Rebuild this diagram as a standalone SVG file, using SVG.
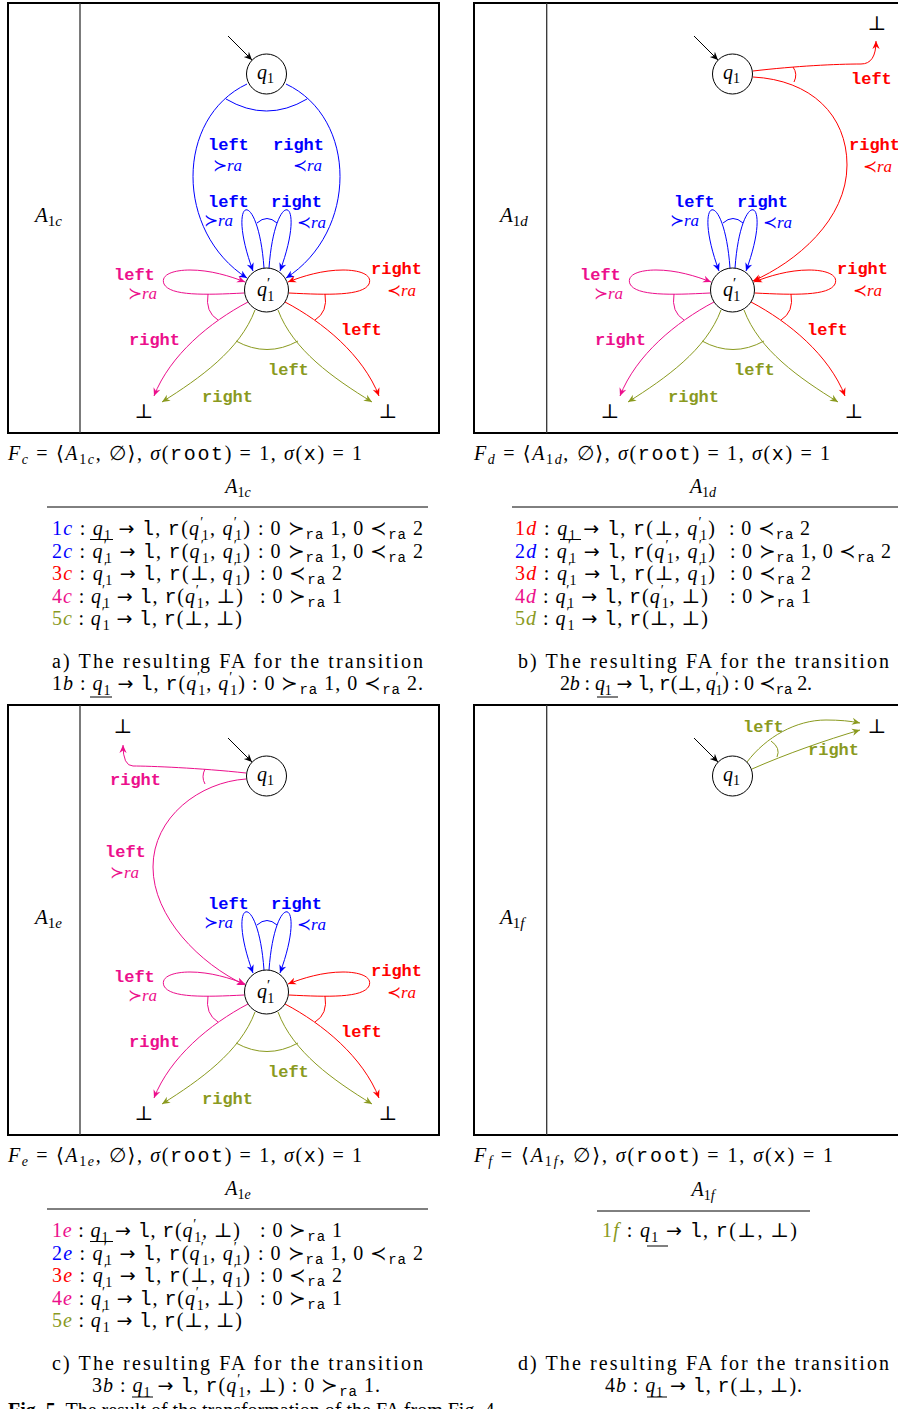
<svg xmlns="http://www.w3.org/2000/svg" width="898" height="1409" viewBox="0 0 898 1409">
<style>
text { font-family: "Liberation Serif", "DejaVu Serif", serif; font-size: 20px; fill: #000; }
.i { font-style: italic; }
.tt { font-family: "Liberation Mono", "DejaVu Sans Mono", monospace; }
.ar { font-family: "DejaVu Sans", sans-serif; font-size: 19px; }
.s { font-size: 14px; }
.lb { font-family: "Liberation Mono", "DejaVu Sans Mono", monospace; font-weight: bold; font-size: 17px; }
.ra { font-size: 17px; }
.frame { fill: none; stroke: #000; stroke-width: 2; }
.div { stroke: #333; stroke-width: 1.3; }
.node { fill: #fff; stroke: #000; stroke-width: 1; }
.e { fill: none; stroke-width: 1; }
.bl { stroke: #0000ff; } .rd { stroke: #ff0000; } .pk { stroke: #ec0f8c; } .ol { stroke: #8a9a1f; } .bk { stroke: #000; }
.fbl { fill: #0000ff; } .frd { fill: #ff0000; } .fpk { fill: #ec0f8c; } .fol { fill: #8a9a1f; }
.rule { stroke: #000; stroke-width: 1; }
</style>
<defs>
<marker id="mbk" viewBox="-10 -6 12 12" refX="0" refY="0" markerWidth="12" markerHeight="12" markerUnits="userSpaceOnUse" orient="auto"><path d="M0,0 L-8,-3.6 L-5.5,0 L-8,3.6 Z" fill="#000"/></marker>
<marker id="mbl" viewBox="-10 -6 12 12" refX="0" refY="0" markerWidth="12" markerHeight="12" markerUnits="userSpaceOnUse" orient="auto"><path d="M0,0 L-8,-3.6 L-5.5,0 L-8,3.6 Z" fill="#0000ff"/></marker>
<marker id="mrd" viewBox="-10 -6 12 12" refX="0" refY="0" markerWidth="12" markerHeight="12" markerUnits="userSpaceOnUse" orient="auto"><path d="M0,0 L-8,-3.6 L-5.5,0 L-8,3.6 Z" fill="#ff0000"/></marker>
<marker id="mpk" viewBox="-10 -6 12 12" refX="0" refY="0" markerWidth="12" markerHeight="12" markerUnits="userSpaceOnUse" orient="auto"><path d="M0,0 L-8,-3.6 L-5.5,0 L-8,3.6 Z" fill="#ec0f8c"/></marker>
<marker id="mol" viewBox="-10 -6 12 12" refX="0" refY="0" markerWidth="12" markerHeight="12" markerUnits="userSpaceOnUse" orient="auto"><path d="M0,0 L-8,-3.6 L-5.5,0 L-8,3.6 Z" fill="#8a9a1f"/></marker>
</defs>

<!-- ================= PANEL A ================= -->
<g id="panelA">
<rect class="frame" x="8" y="3" width="431" height="430"/>
<line class="div" x1="80" y1="3" x2="80" y2="433"/>
<text x="35" y="222"><tspan class="i" font-size="21">A</tspan><tspan font-size="15" dy="4">1</tspan><tspan font-size="15" class="i">c</tspan></text>
<g id="a-connectors">
<path class="e bk" d="M228,36 L252,60" marker-end="url(#mbk)"/>
<path class="e bl" d="M247,84 C175,118 175,232 247,278" marker-end="url(#mbl)"/>
<path class="e bl" d="M286,84 C358,118 358,232 286,278" marker-end="url(#mbl)"/>
<path class="e bl" d="M226,99 Q266.5,123 307,99"/>
<text class="lb fbl" x="208" y="150">left</text>
<text class="ra fbl" x="213" y="171">≻<tspan class="i">ra</tspan></text>
<text class="lb fbl" x="273" y="150">right</text>
<text class="ra fbl" x="293" y="171">≺<tspan class="i">ra</tspan></text>
<path class="e bl" d="M264,268 C258,185 225,195 253,271" marker-end="url(#mbl)"/>
<path class="e bl" d="M269,268 C275,185 308,195 280,271" marker-end="url(#mbl)"/>
<path class="e bl" d="M257,223 Q267,214 277,223"/>
<path class="e pk" d="M244,293 C205,295 170,296 164,284 C160,274 175,270 190,270 C210,270 230,276 245,282" marker-end="url(#mpk)"/>
<path class="e rd" d="M289,293 C328,295 363,296 369,284 C373,274 358,270 343,270 C323,270 303,276 288,282" marker-end="url(#mrd)"/>
<path class="e pk" d="M208,294 Q205,312 218,320"/>
<path class="e rd" d="M325,294 Q328,312 315,320"/>
<path class="e pk" d="M248,302 C210,322 170,355 154,396" marker-end="url(#mpk)"/>
<path class="e ol" d="M255,310 C240,350 200,378 162,402" marker-end="url(#mol)"/>
<path class="e ol" d="M278,310 C293,350 333,378 372,402" marker-end="url(#mol)"/>
<path class="e rd" d="M285,302 C323,322 363,355 379,396" marker-end="url(#mrd)"/>
<path class="e ol" d="M236,341 Q267,358 298,341"/>
<text class="lb fbl" x="208" y="207">left</text>
<text class="ra fbl" x="204" y="226">≻<tspan class="i">ra</tspan></text>
<text class="lb fbl" x="271" y="207">right</text>
<text class="ra fbl" x="297" y="228">≺<tspan class="i">ra</tspan></text>
<text class="lb fpk" x="114" y="280">left</text>
<text class="ra fpk" x="128" y="299">≻<tspan class="i">ra</tspan></text>
<text class="lb frd" x="371" y="274">right</text>
<text class="ra frd" x="387" y="296">≺<tspan class="i">ra</tspan></text>
<text class="lb fpk" x="129" y="345">right</text>
<text class="lb frd" x="341" y="335">left</text>
<text class="lb fol" x="268" y="375">left</text>
<text class="lb fol" x="202" y="402">right</text>
</g>
<g id="a-q1"><circle class="node" cx="266.5" cy="74" r="20"/><text x="257" y="79"><tspan class="i">q</tspan><tspan class="s" dy="4">1</tspan></text></g>
<g id="a-q1p"><circle class="node" cx="266.5" cy="290" r="22"/><text x="257" y="296"><tspan class="i">q</tspan><tspan font-size="15" dy="-8">′</tspan><tspan class="s" dx="-3" dy="13">1</tspan></text></g>
<g id="a-botL"><text x="144" y="418" text-anchor="middle">⊥</text></g>
<g id="a-botR"><text x="388" y="418" text-anchor="middle">⊥</text></g>
</g>

<!-- ================= PANEL B ================= -->
<g id="panelB" transform="translate(466,0)">
<rect class="frame" x="8" y="3" width="431" height="430"/>
<line class="div" x1="80.7" y1="3" x2="80.7" y2="433"/>
<text x="34" y="222"><tspan class="i" font-size="21">A</tspan><tspan font-size="15" dy="4">1</tspan><tspan font-size="15" class="i">d</tspan></text>
<g id="b-connectors">
<path class="e bk" d="M228,36 L252,60" marker-end="url(#mbk)"/>
<path class="e rd" d="M287,71 C330,66 370,64 395,64 Q410,64 410,41" marker-end="url(#mrd)"/>
<path class="e rd" d="M287,77 C345,80 381,115 381,165 C381,220 330,262 287,281" marker-end="url(#mrd)"/>
<path class="e rd" d="M327,67 Q332,74 328,82"/>
<text class="lb frd" x="385" y="84">left</text>
<text class="lb frd" x="383" y="150">right</text>
<text class="ra frd" x="397" y="172">≺<tspan class="i">ra</tspan></text>
<path class="e bl" d="M264,268 C258,185 225,195 253,271" marker-end="url(#mbl)"/>
<path class="e bl" d="M269,268 C275,185 308,195 280,271" marker-end="url(#mbl)"/>
<path class="e bl" d="M257,223 Q267,214 277,223"/>
<path class="e pk" d="M244,293 C205,295 170,296 164,284 C160,274 175,270 190,270 C210,270 230,276 245,282" marker-end="url(#mpk)"/>
<path class="e rd" d="M289,293 C328,295 363,296 369,284 C373,274 358,270 343,270 C323,270 303,276 288,282" marker-end="url(#mrd)"/>
<path class="e pk" d="M208,294 Q205,312 218,320"/>
<path class="e rd" d="M325,294 Q328,312 315,320"/>
<path class="e pk" d="M248,302 C210,322 170,355 154,396" marker-end="url(#mpk)"/>
<path class="e ol" d="M255,310 C240,350 200,378 162,402" marker-end="url(#mol)"/>
<path class="e ol" d="M278,310 C293,350 333,378 372,402" marker-end="url(#mol)"/>
<path class="e rd" d="M285,302 C323,322 363,355 379,396" marker-end="url(#mrd)"/>
<path class="e ol" d="M236,341 Q267,358 298,341"/>
<text class="lb fbl" x="208" y="207">left</text>
<text class="ra fbl" x="204" y="226">≻<tspan class="i">ra</tspan></text>
<text class="lb fbl" x="271" y="207">right</text>
<text class="ra fbl" x="297" y="228">≺<tspan class="i">ra</tspan></text>
<text class="lb fpk" x="114" y="280">left</text>
<text class="ra fpk" x="128" y="299">≻<tspan class="i">ra</tspan></text>
<text class="lb frd" x="371" y="274">right</text>
<text class="ra frd" x="387" y="296">≺<tspan class="i">ra</tspan></text>
<text class="lb fpk" x="129" y="345">right</text>
<text class="lb frd" x="341" y="335">left</text>
<text class="lb fol" x="268" y="375">left</text>
<text class="lb fol" x="202" y="402">right</text>
</g>
<g id="b-q1"><circle class="node" cx="266.5" cy="74" r="20"/><text x="257" y="79"><tspan class="i">q</tspan><tspan class="s" dy="4">1</tspan></text></g>
<g id="b-q1p"><circle class="node" cx="266.5" cy="290" r="22"/><text x="257" y="296"><tspan class="i">q</tspan><tspan font-size="15" dy="-8">′</tspan><tspan class="s" dx="-3" dy="13">1</tspan></text></g>
<g id="b-botTop"><text x="411" y="30" text-anchor="middle">⊥</text></g>
<g id="b-botL"><text x="144" y="418" text-anchor="middle">⊥</text></g>
<g id="b-botR"><text x="388" y="418" text-anchor="middle">⊥</text></g>
</g>

<!-- ================= PANEL C ================= -->
<g id="panelC" transform="translate(0,702)">
<rect class="frame" x="8" y="3" width="431" height="430"/>
<line class="div" x1="80" y1="3" x2="80" y2="433"/>
<text x="35" y="222"><tspan class="i" font-size="21">A</tspan><tspan font-size="15" dy="4">1</tspan><tspan font-size="15" class="i">e</tspan></text>
<g id="c-connectors">
<path class="e bk" d="M228,36 L252,60" marker-end="url(#mbk)"/>
<path class="e pk" d="M246,71 C200,66 150,64 133,64 Q123,64 123,43" marker-end="url(#mpk)"/>
<path class="e pk" d="M246,77 C200,80 153,115 153,165 C153,215 200,262 245,283" marker-end="url(#mpk)"/>
<path class="e pk" d="M205,67 Q201,75 205,82"/>
<text class="lb fpk" x="110" y="83">right</text>
<text class="lb fpk" x="105" y="155">left</text>
<text class="ra fpk" x="110" y="176">≻<tspan class="i">ra</tspan></text>
<path class="e bl" d="M264,268 C258,185 225,195 253,271" marker-end="url(#mbl)"/>
<path class="e bl" d="M269,268 C275,185 308,195 280,271" marker-end="url(#mbl)"/>
<path class="e bl" d="M257,223 Q267,214 277,223"/>
<path class="e pk" d="M244,293 C205,295 170,296 164,284 C160,274 175,270 190,270 C210,270 230,276 245,282" marker-end="url(#mpk)"/>
<path class="e rd" d="M289,293 C328,295 363,296 369,284 C373,274 358,270 343,270 C323,270 303,276 288,282" marker-end="url(#mrd)"/>
<path class="e pk" d="M208,294 Q205,312 218,320"/>
<path class="e rd" d="M325,294 Q328,312 315,320"/>
<path class="e pk" d="M248,302 C210,322 170,355 154,396" marker-end="url(#mpk)"/>
<path class="e ol" d="M255,310 C240,350 200,378 162,402" marker-end="url(#mol)"/>
<path class="e ol" d="M278,310 C293,350 333,378 372,402" marker-end="url(#mol)"/>
<path class="e rd" d="M285,302 C323,322 363,355 379,396" marker-end="url(#mrd)"/>
<path class="e ol" d="M236,341 Q267,358 298,341"/>
<text class="lb fbl" x="208" y="207">left</text>
<text class="ra fbl" x="204" y="226">≻<tspan class="i">ra</tspan></text>
<text class="lb fbl" x="271" y="207">right</text>
<text class="ra fbl" x="297" y="228">≺<tspan class="i">ra</tspan></text>
<text class="lb fpk" x="114" y="280">left</text>
<text class="ra fpk" x="128" y="299">≻<tspan class="i">ra</tspan></text>
<text class="lb frd" x="371" y="274">right</text>
<text class="ra frd" x="387" y="296">≺<tspan class="i">ra</tspan></text>
<text class="lb fpk" x="129" y="345">right</text>
<text class="lb frd" x="341" y="335">left</text>
<text class="lb fol" x="268" y="375">left</text>
<text class="lb fol" x="202" y="402">right</text>
</g>
<g id="c-q1"><circle class="node" cx="266.5" cy="74" r="20"/><text x="257" y="79"><tspan class="i">q</tspan><tspan class="s" dy="4">1</tspan></text></g>
<g id="c-q1p"><circle class="node" cx="266.5" cy="290" r="22"/><text x="257" y="296"><tspan class="i">q</tspan><tspan font-size="15" dy="-8">′</tspan><tspan class="s" dx="-3" dy="13">1</tspan></text></g>
<g id="c-botTop"><text x="123" y="31" text-anchor="middle">⊥</text></g>
<g id="c-botL"><text x="144" y="418" text-anchor="middle">⊥</text></g>
<g id="c-botR"><text x="388" y="418" text-anchor="middle">⊥</text></g>
</g>

<!-- ================= PANEL D ================= -->
<g id="panelD" transform="translate(466,702)">
<rect class="frame" x="8" y="3" width="431" height="430"/>
<line class="div" x1="80.7" y1="3" x2="80.7" y2="433"/>
<text x="34" y="222"><tspan class="i" font-size="21">A</tspan><tspan font-size="15" dy="4">1</tspan><tspan font-size="15" class="i">f</tspan></text>
<g id="d-connectors">
<path class="e bk" d="M228,36 L252,60" marker-end="url(#mbk)"/>
<path class="e ol" d="M281,60 C300,35 330,18 360,18 Q380,18 394,21" marker-end="url(#mol)"/>
<path class="e ol" d="M286,67 C320,52 360,38 394,28" marker-end="url(#mol)"/>
<path class="e ol" d="M305,39 Q315,46 311,55"/>
<text class="lb fol" x="277" y="30">left</text>
<text class="lb fol" x="342" y="53">right</text>
</g>
<g id="d-q1"><circle class="node" cx="266.5" cy="74" r="20"/><text x="257" y="79"><tspan class="i">q</tspan><tspan class="s" dy="4">1</tspan></text></g>
<g id="d-botTop"><text x="411" y="31" text-anchor="middle">⊥</text></g>
</g>

<!-- ================= TEXT A ================= -->
<g id="textA">
<text x="8" y="460" textLength="354" lengthAdjust="spacing"><tspan class="i">F</tspan><tspan class="s i" dy="4">c</tspan><tspan dy="-4"> = ⟨</tspan><tspan class="i">A</tspan><tspan class="s" dy="4">1</tspan><tspan class="s i">c</tspan><tspan dy="-4">, ∅⟩, </tspan><tspan class="i">σ</tspan>(<tspan class="tt">root</tspan>) = 1, <tspan class="i">σ</tspan>(<tspan class="tt">x</tspan>) = 1</text>
<text x="238" y="493" text-anchor="middle"><tspan class="i">A</tspan><tspan class="s" dy="4">1</tspan><tspan class="s i">c</tspan></text>
<line class="rule" x1="47" y1="507" x2="428" y2="507"/>
<text x="52" y="535" textLength="198" lengthAdjust="spacing"><tspan fill="#0000ff">1<tspan class="i">c</tspan></tspan> : <tspan class="i">q</tspan><tspan class="s" dy="5">1</tspan><tspan dy="-5"> <tspan class="ar">→</tspan> </tspan><tspan class="tt">l</tspan>, <tspan class="tt">r</tspan>(<tspan class="i">q</tspan><tspan class="s" dy="-8">′</tspan><tspan class="s" dx="-3" dy="13">1</tspan><tspan dy="-5">, </tspan><tspan class="i">q</tspan><tspan class="s" dy="-8">′</tspan><tspan class="s" dx="-3" dy="13">1</tspan><tspan dy="-5">)</tspan></text>
<line class="rule" x1="90" y1="539.5" x2="113" y2="539.5"/>
<text x="258" y="535" textLength="165" lengthAdjust="spacing">: 0 ≻<tspan class="tt s" dy="4">ra</tspan><tspan dy="-4"> 1, 0 ≺</tspan><tspan class="tt s" dy="4">ra</tspan><tspan dy="-4"> 2</tspan></text>
<text x="52" y="557.5" textLength="198" lengthAdjust="spacing"><tspan fill="#0000ff">2<tspan class="i">c</tspan></tspan> : <tspan class="i">q</tspan><tspan class="s" dy="-8">′</tspan><tspan class="s" dx="-3" dy="13">1</tspan><tspan dy="-5"> <tspan class="ar">→</tspan> </tspan><tspan class="tt">l</tspan>, <tspan class="tt">r</tspan>(<tspan class="i">q</tspan><tspan class="s" dy="-8">′</tspan><tspan class="s" dx="-3" dy="13">1</tspan><tspan dy="-5">, </tspan><tspan class="i">q</tspan><tspan class="s" dy="-8">′</tspan><tspan class="s" dx="-3" dy="13">1</tspan><tspan dy="-5">)</tspan></text>
<text x="258" y="557.5" textLength="165" lengthAdjust="spacing">: 0 ≻<tspan class="tt s" dy="4">ra</tspan><tspan dy="-4"> 1, 0 ≺</tspan><tspan class="tt s" dy="4">ra</tspan><tspan dy="-4"> 2</tspan></text>
<text x="52" y="580" textLength="198" lengthAdjust="spacing"><tspan fill="#ff0000">3<tspan class="i">c</tspan></tspan> : <tspan class="i">q</tspan><tspan class="s" dy="-8">′</tspan><tspan class="s" dx="-3" dy="13">1</tspan><tspan dy="-5"> <tspan class="ar">→</tspan> </tspan><tspan class="tt">l</tspan>, <tspan class="tt">r</tspan>(⊥, <tspan class="i">q</tspan><tspan class="s" dy="-8">′</tspan><tspan class="s" dx="-3" dy="13">1</tspan><tspan dy="-5">)</tspan></text>
<text x="260" y="580" textLength="82" lengthAdjust="spacing">: 0 ≺<tspan class="tt s" dy="4">ra</tspan><tspan dy="-4"> 2</tspan></text>
<text x="52" y="602.5" textLength="191" lengthAdjust="spacing"><tspan fill="#ec0f8c">4<tspan class="i">c</tspan></tspan> : <tspan class="i">q</tspan><tspan class="s" dy="-8">′</tspan><tspan class="s" dx="-3" dy="13">1</tspan><tspan dy="-5"> <tspan class="ar">→</tspan> </tspan><tspan class="tt">l</tspan>, <tspan class="tt">r</tspan>(<tspan class="i">q</tspan><tspan class="s" dy="-8">′</tspan><tspan class="s" dx="-3" dy="13">1</tspan><tspan dy="-5">, ⊥)</tspan></text>
<text x="260" y="602.5" textLength="82" lengthAdjust="spacing">: 0 ≻<tspan class="tt s" dy="4">ra</tspan><tspan dy="-4"> 1</tspan></text>
<text x="52" y="625" textLength="190" lengthAdjust="spacing"><tspan fill="#8a9a1f">5<tspan class="i">c</tspan></tspan> : <tspan class="i">q</tspan><tspan class="s" dy="-8">′</tspan><tspan class="s" dx="-3" dy="13">1</tspan><tspan dy="-5"> <tspan class="ar">→</tspan> </tspan><tspan class="tt">l</tspan>, <tspan class="tt">r</tspan>(⊥, ⊥)</text>
<text x="52" y="668" textLength="371" lengthAdjust="spacing">a) The resulting FA for the transition</text>
<text x="52" y="690" textLength="371" lengthAdjust="spacing">1<tspan class="i">b</tspan> : <tspan class="i">q</tspan><tspan class="s" dy="5">1</tspan><tspan dy="-5"> <tspan class="ar">→</tspan> </tspan><tspan class="tt">l</tspan>, <tspan class="tt">r</tspan>(<tspan class="i">q</tspan><tspan class="s" dy="-8">′</tspan><tspan class="s" dx="-3" dy="13">1</tspan><tspan dy="-5">, </tspan><tspan class="i">q</tspan><tspan class="s" dy="-8">′</tspan><tspan class="s" dx="-3" dy="13">1</tspan><tspan dy="-5">) : 0 ≻</tspan><tspan class="tt s" dy="4">ra</tspan><tspan dy="-4"> 1, 0 ≺</tspan><tspan class="tt s" dy="4">ra</tspan><tspan dy="-4"> 2.</tspan></text>
<line class="rule" x1="90" y1="697" x2="112" y2="697"/>
</g>

<!-- ================= TEXT B ================= -->
<g id="textB">
<text x="474" y="460" textLength="356" lengthAdjust="spacing"><tspan class="i">F</tspan><tspan class="s i" dy="4">d</tspan><tspan dy="-4"> = ⟨</tspan><tspan class="i">A</tspan><tspan class="s" dy="4">1</tspan><tspan class="s i">d</tspan><tspan dy="-4">, ∅⟩, </tspan><tspan class="i">σ</tspan>(<tspan class="tt">root</tspan>) = 1, <tspan class="i">σ</tspan>(<tspan class="tt">x</tspan>) = 1</text>
<text x="703" y="493" text-anchor="middle"><tspan class="i">A</tspan><tspan class="s" dy="4">1</tspan><tspan class="s i">d</tspan></text>
<line class="rule" x1="512" y1="507" x2="898" y2="507"/>
<text x="515" y="535" textLength="200" lengthAdjust="spacing"><tspan fill="#ff0000">1<tspan class="i">d</tspan></tspan> : <tspan class="i">q</tspan><tspan class="s" dy="5">1</tspan><tspan dy="-5"> <tspan class="ar">→</tspan> </tspan><tspan class="tt">l</tspan>, <tspan class="tt">r</tspan>(⊥, <tspan class="i">q</tspan><tspan class="s" dy="-8">′</tspan><tspan class="s" dx="-3" dy="13">1</tspan><tspan dy="-5">)</tspan></text>
<line class="rule" x1="560" y1="539.5" x2="581" y2="539.5"/>
<text x="729" y="535" textLength="81" lengthAdjust="spacing">: 0 ≺<tspan class="tt s" dy="4">ra</tspan><tspan dy="-4"> 2</tspan></text>
<text x="515" y="557.5" textLength="200" lengthAdjust="spacing"><tspan fill="#0000ff">2<tspan class="i">d</tspan></tspan> : <tspan class="i">q</tspan><tspan class="s" dy="-8">′</tspan><tspan class="s" dx="-3" dy="13">1</tspan><tspan dy="-5"> <tspan class="ar">→</tspan> </tspan><tspan class="tt">l</tspan>, <tspan class="tt">r</tspan>(<tspan class="i">q</tspan><tspan class="s" dy="-8">′</tspan><tspan class="s" dx="-3" dy="13">1</tspan><tspan dy="-5">, </tspan><tspan class="i">q</tspan><tspan class="s" dy="-8">′</tspan><tspan class="s" dx="-3" dy="13">1</tspan><tspan dy="-5">)</tspan></text>
<text x="730" y="557.5" textLength="161" lengthAdjust="spacing">: 0 ≻<tspan class="tt s" dy="4">ra</tspan><tspan dy="-4"> 1, 0 ≺</tspan><tspan class="tt s" dy="4">ra</tspan><tspan dy="-4"> 2</tspan></text>
<text x="515" y="580" textLength="200" lengthAdjust="spacing"><tspan fill="#ff0000">3<tspan class="i">d</tspan></tspan> : <tspan class="i">q</tspan><tspan class="s" dy="-8">′</tspan><tspan class="s" dx="-3" dy="13">1</tspan><tspan dy="-5"> <tspan class="ar">→</tspan> </tspan><tspan class="tt">l</tspan>, <tspan class="tt">r</tspan>(⊥, <tspan class="i">q</tspan><tspan class="s" dy="-8">′</tspan><tspan class="s" dx="-3" dy="13">1</tspan><tspan dy="-5">)</tspan></text>
<text x="730" y="580" textLength="81" lengthAdjust="spacing">: 0 ≺<tspan class="tt s" dy="4">ra</tspan><tspan dy="-4"> 2</tspan></text>
<text x="515" y="602.5" textLength="193" lengthAdjust="spacing"><tspan fill="#ec0f8c">4<tspan class="i">d</tspan></tspan> : <tspan class="i">q</tspan><tspan class="s" dy="-8">′</tspan><tspan class="s" dx="-3" dy="13">1</tspan><tspan dy="-5"> <tspan class="ar">→</tspan> </tspan><tspan class="tt">l</tspan>, <tspan class="tt">r</tspan>(<tspan class="i">q</tspan><tspan class="s" dy="-8">′</tspan><tspan class="s" dx="-3" dy="13">1</tspan><tspan dy="-5">, ⊥)</tspan></text>
<text x="730" y="602.5" textLength="81" lengthAdjust="spacing">: 0 ≻<tspan class="tt s" dy="4">ra</tspan><tspan dy="-4"> 1</tspan></text>
<text x="515" y="625" textLength="193" lengthAdjust="spacing"><tspan fill="#8a9a1f">5<tspan class="i">d</tspan></tspan> : <tspan class="i">q</tspan><tspan class="s" dy="-8">′</tspan><tspan class="s" dx="-3" dy="13">1</tspan><tspan dy="-5"> <tspan class="ar">→</tspan> </tspan><tspan class="tt">l</tspan>, <tspan class="tt">r</tspan>(⊥, ⊥)</text>
<text x="518" y="668" textLength="371" lengthAdjust="spacing">b) The resulting FA for the transition</text>
<text x="560" y="690" textLength="252" lengthAdjust="spacing">2<tspan class="i">b</tspan> : <tspan class="i">q</tspan><tspan class="s" dy="5">1</tspan><tspan dy="-5"> <tspan class="ar">→</tspan> </tspan><tspan class="tt">l</tspan>, <tspan class="tt">r</tspan>(⊥, <tspan class="i">q</tspan><tspan class="s" dy="-8">′</tspan><tspan class="s" dx="-3" dy="13">1</tspan><tspan dy="-5">) : 0 ≺</tspan><tspan class="tt s" dy="4">ra</tspan><tspan dy="-4"> 2.</tspan></text>
<line class="rule" x1="597" y1="697" x2="618" y2="697"/>
</g>

<!-- ================= TEXT C ================= -->
<g id="textC">
<text x="8" y="1162" textLength="354" lengthAdjust="spacing"><tspan class="i">F</tspan><tspan class="s i" dy="4">e</tspan><tspan dy="-4"> = ⟨</tspan><tspan class="i">A</tspan><tspan class="s" dy="4">1</tspan><tspan class="s i">e</tspan><tspan dy="-4">, ∅⟩, </tspan><tspan class="i">σ</tspan>(<tspan class="tt">root</tspan>) = 1, <tspan class="i">σ</tspan>(<tspan class="tt">x</tspan>) = 1</text>
<text x="238" y="1195" text-anchor="middle"><tspan class="i">A</tspan><tspan class="s" dy="4">1</tspan><tspan class="s i">e</tspan></text>
<line class="rule" x1="47" y1="1209" x2="428" y2="1209"/>
<text x="52" y="1237" textLength="188" lengthAdjust="spacing"><tspan fill="#ec0f8c">1<tspan class="i">e</tspan></tspan> : <tspan class="i">q</tspan><tspan class="s" dy="5">1</tspan><tspan dy="-5"> <tspan class="ar">→</tspan> </tspan><tspan class="tt">l</tspan>, <tspan class="tt">r</tspan>(<tspan class="i">q</tspan><tspan class="s" dy="-8">′</tspan><tspan class="s" dx="-3" dy="13">1</tspan><tspan dy="-5">, ⊥)</tspan></text>
<line class="rule" x1="90" y1="1241.5" x2="113" y2="1241.5"/>
<text x="260" y="1237" textLength="82" lengthAdjust="spacing">: 0 ≻<tspan class="tt s" dy="4">ra</tspan><tspan dy="-4"> 1</tspan></text>
<text x="52" y="1259.5" textLength="198" lengthAdjust="spacing"><tspan fill="#0000ff">2<tspan class="i">e</tspan></tspan> : <tspan class="i">q</tspan><tspan class="s" dy="-8">′</tspan><tspan class="s" dx="-3" dy="13">1</tspan><tspan dy="-5"> <tspan class="ar">→</tspan> </tspan><tspan class="tt">l</tspan>, <tspan class="tt">r</tspan>(<tspan class="i">q</tspan><tspan class="s" dy="-8">′</tspan><tspan class="s" dx="-3" dy="13">1</tspan><tspan dy="-5">, </tspan><tspan class="i">q</tspan><tspan class="s" dy="-8">′</tspan><tspan class="s" dx="-3" dy="13">1</tspan><tspan dy="-5">)</tspan></text>
<text x="258" y="1259.5" textLength="165" lengthAdjust="spacing">: 0 ≻<tspan class="tt s" dy="4">ra</tspan><tspan dy="-4"> 1, 0 ≺</tspan><tspan class="tt s" dy="4">ra</tspan><tspan dy="-4"> 2</tspan></text>
<text x="52" y="1282" textLength="198" lengthAdjust="spacing"><tspan fill="#ff0000">3<tspan class="i">e</tspan></tspan> : <tspan class="i">q</tspan><tspan class="s" dy="-8">′</tspan><tspan class="s" dx="-3" dy="13">1</tspan><tspan dy="-5"> <tspan class="ar">→</tspan> </tspan><tspan class="tt">l</tspan>, <tspan class="tt">r</tspan>(⊥, <tspan class="i">q</tspan><tspan class="s" dy="-8">′</tspan><tspan class="s" dx="-3" dy="13">1</tspan><tspan dy="-5">)</tspan></text>
<text x="260" y="1282" textLength="82" lengthAdjust="spacing">: 0 ≺<tspan class="tt s" dy="4">ra</tspan><tspan dy="-4"> 2</tspan></text>
<text x="52" y="1304.5" textLength="191" lengthAdjust="spacing"><tspan fill="#ec0f8c">4<tspan class="i">e</tspan></tspan> : <tspan class="i">q</tspan><tspan class="s" dy="-8">′</tspan><tspan class="s" dx="-3" dy="13">1</tspan><tspan dy="-5"> <tspan class="ar">→</tspan> </tspan><tspan class="tt">l</tspan>, <tspan class="tt">r</tspan>(<tspan class="i">q</tspan><tspan class="s" dy="-8">′</tspan><tspan class="s" dx="-3" dy="13">1</tspan><tspan dy="-5">, ⊥)</tspan></text>
<text x="260" y="1304.5" textLength="82" lengthAdjust="spacing">: 0 ≻<tspan class="tt s" dy="4">ra</tspan><tspan dy="-4"> 1</tspan></text>
<text x="52" y="1327" textLength="190" lengthAdjust="spacing"><tspan fill="#8a9a1f">5<tspan class="i">e</tspan></tspan> : <tspan class="i">q</tspan><tspan class="s" dy="-8">′</tspan><tspan class="s" dx="-3" dy="13">1</tspan><tspan dy="-5"> <tspan class="ar">→</tspan> </tspan><tspan class="tt">l</tspan>, <tspan class="tt">r</tspan>(⊥, ⊥)</text>
<text x="52" y="1370" textLength="371" lengthAdjust="spacing">c) The resulting FA for the transition</text>
<text x="92" y="1392" textLength="288" lengthAdjust="spacing">3<tspan class="i">b</tspan> : <tspan class="i">q</tspan><tspan class="s" dy="5">1</tspan><tspan dy="-5"> <tspan class="ar">→</tspan> </tspan><tspan class="tt">l</tspan>, <tspan class="tt">r</tspan>(<tspan class="i">q</tspan><tspan class="s" dy="-8">′</tspan><tspan class="s" dx="-3" dy="13">1</tspan><tspan dy="-5">, ⊥) : 0 ≻</tspan><tspan class="tt s" dy="4">ra</tspan><tspan dy="-4"> 1.</tspan></text>
<line class="rule" x1="132" y1="1397" x2="153" y2="1397"/>
</g>

<!-- ================= TEXT D ================= -->
<g id="textD">
<text x="474" y="1162" textLength="359" lengthAdjust="spacing"><tspan class="i">F</tspan><tspan class="s i" dy="4">f</tspan><tspan dy="-4"> = ⟨</tspan><tspan class="i">A</tspan><tspan class="s" dy="4">1</tspan><tspan class="s i">f</tspan><tspan dy="-4">, ∅⟩, </tspan><tspan class="i">σ</tspan>(<tspan class="tt">root</tspan>) = 1, <tspan class="i">σ</tspan>(<tspan class="tt">x</tspan>) = 1</text>
<text x="703" y="1196" text-anchor="middle"><tspan class="i">A</tspan><tspan class="s" dy="4">1</tspan><tspan class="s i">f</tspan></text>
<line class="rule" x1="597" y1="1211" x2="810" y2="1211"/>
<text x="602" y="1237" textLength="195" lengthAdjust="spacing"><tspan fill="#8a9a1f">1<tspan class="i">f</tspan></tspan> : <tspan class="i">q</tspan><tspan class="s" dy="5">1</tspan><tspan dy="-5"> <tspan class="ar">→</tspan> </tspan><tspan class="tt">l</tspan>, <tspan class="tt">r</tspan>(⊥, ⊥)</text>
<line class="rule" x1="647" y1="1246" x2="668" y2="1246"/>
<text x="518" y="1370" textLength="371" lengthAdjust="spacing">d) The resulting FA for the transition</text>
<text x="605" y="1392" textLength="197" lengthAdjust="spacing">4<tspan class="i">b</tspan> : <tspan class="i">q</tspan><tspan class="s" dy="5">1</tspan><tspan dy="-5"> <tspan class="ar">→</tspan> </tspan><tspan class="tt">l</tspan>, <tspan class="tt">r</tspan>(⊥, ⊥).</text>
<line class="rule" x1="647" y1="1397" x2="667" y2="1397"/>
</g>

<g id="figcaption">
<text x="8" y="1417"><tspan font-weight="bold">Fig. 5.</tspan> The result of the transformation of the FA from Fig. 4.</text>
</g>
</svg>
